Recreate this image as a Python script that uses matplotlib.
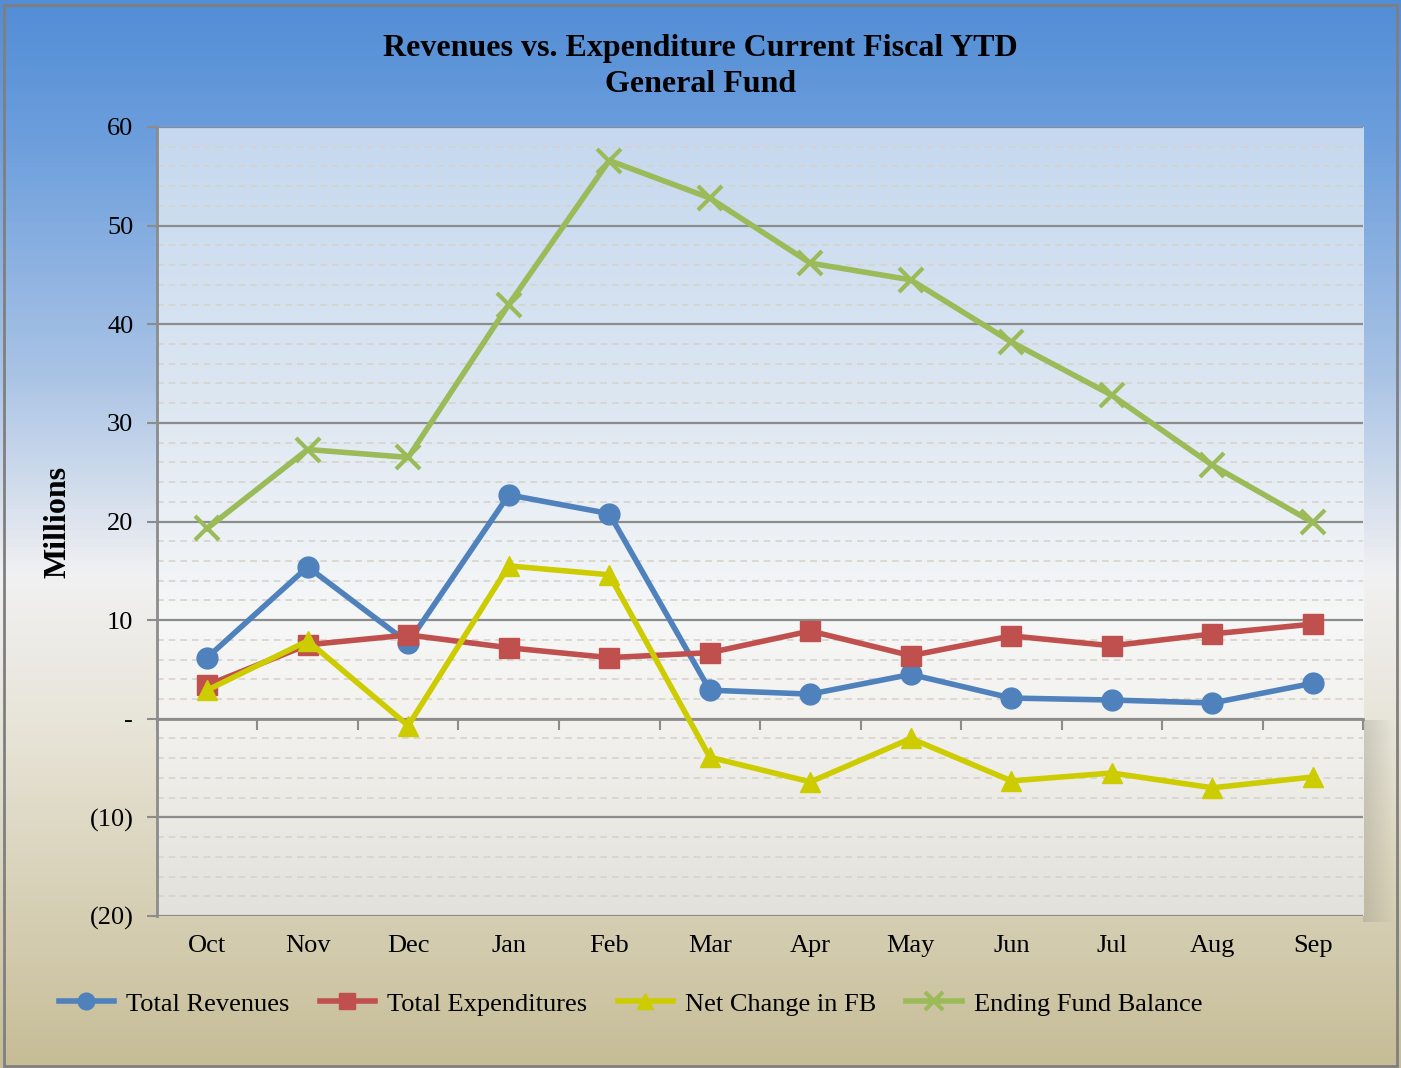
import numpy as np
import matplotlib
matplotlib.use("Agg")
from matplotlib import pyplot as plt
from matplotlib.colors import LinearSegmentedColormap
from matplotlib.patches import Rectangle

months = ["Oct", "Nov", "Dec", "Jan", "Feb", "Mar", "Apr", "May", "Jun", "Jul", "Aug", "Sep"]

# values in millions
total_revenues = [6.2, 15.4, 7.7, 22.7, 20.8, 2.9, 2.5, 4.5, 2.1, 1.9, 1.6, 3.6]
total_expenditures = [3.4, 7.5, 8.5, 7.2, 6.2, 6.7, 8.9, 6.4, 8.4, 7.4, 8.6, 9.6]
net_change_fb = [2.9, 7.9, -0.7, 15.5, 14.6, -3.9, -6.4, -2.0, -6.3, -5.5, -7.0, -5.9]
ending_fund_balance = [19.3, 27.3, 26.5, 42.0, 56.6, 52.8, 46.2, 44.5, 38.2, 32.8, 25.7, 19.9]

y_ticks = [60, 50, 40, 30, 20, 10, 0, -10, -20]
y_ticklabels = ["60", "50", "40", "30", "20", "10", "-", "(10)", "(20)"]

plt.rcParams['font.family'] = ['Liberation Serif', 'DejaVu Serif']

fig = plt.figure(figsize=(14.01, 10.68), dpi=100)

# figure background gradient (blue top -> white -> khaki bottom)
bg = fig.add_axes([0, 0, 1, 1], zorder=-10)
bg_cmap = LinearSegmentedColormap.from_list("bg", [
    (0.0, "#528dd6"), (0.12, "#6a9ddc"), (0.35, "#a9c3e5"),
    (0.54, "#f1f1f2"), (0.70, "#e6e2d4"), (1.0, "#c6bd96")])
grad = np.linspace(0, 1, 256).reshape(-1, 1)
bg.imshow(grad, aspect="auto", cmap=bg_cmap, extent=(0, 1, 0, 1), origin="upper")
bg.set_xlim(0, 1)
bg.set_ylim(0, 1)
bg.axis("off")
# soft shadow to the right of the lower plot area
shadow = np.linspace(1, 0, 64).reshape(1, -1)
shadow_cmap = LinearSegmentedColormap.from_list(
    "sh", [(0.0, (0.54, 0.53, 0.49, 0.0)), (1.0, (0.54, 0.53, 0.49, 0.3))])
bg.imshow(shadow, aspect="auto", cmap=shadow_cmap, extent=(0.973, 0.995, 0.137, 0.326),
          interpolation="bilinear")
bg.add_patch(Rectangle((0.003, 0.002), 0.994, 0.993, fill=False,
                       edgecolor="#7f7f7f", linewidth=2, transform=bg.transAxes))

ax = fig.add_axes([0.112, 0.1423, 0.861, 0.7388])

# plot area gradient
pa_cmap = LinearSegmentedColormap.from_list("pa", [
    (0.0, "#c5d8ef"), (0.35, "#dde7f2"), (0.62, "#f6f7f7"),
    (0.75, "#f3f2ee"), (1.0, "#e3e1db")])
ax.imshow(grad, aspect="auto", cmap=pa_cmap, extent=(-0.5, 11.5, -20, 60),
          origin="upper", zorder=0)

x = np.arange(len(months))

ax.plot(x, total_revenues, color="#4f81bd", linewidth=4, marker="o",
        markersize=15, label="Total Revenues", zorder=5)
ax.plot(x, total_expenditures, color="#c0504d", linewidth=4, marker="s",
        markersize=14, label="Total Expenditures", zorder=5)
ax.plot(x, net_change_fb, color="#cccc00", linewidth=4, marker="^",
        markersize=15, label="Net Change in FB", zorder=5)
ax.plot(x, ending_fund_balance, color="#9bbb59", linewidth=4, marker="x",
        markersize=17, markeredgewidth=3, label="Ending Fund Balance", zorder=5)

ax.set_xlim(-0.5, 11.5)
ax.set_ylim(-20, 60)
ax.set_yticks(y_ticks)
ax.set_yticklabels(y_ticklabels, fontsize=19)
ax.set_yticks(np.arange(-20, 61, 2), minor=True)
ax.set_xticks(x)
ax.set_xticklabels(months, fontsize=19)
ax.tick_params(axis="x", length=0, pad=14)
ax.tick_params(axis="y", which="major", length=7, width=1.5, color="#8c8c8c", pad=10)
ax.tick_params(axis="y", which="minor", length=0)

ax.grid(axis="y", which="major", color="#8c8c8c", linewidth=1.6, zorder=1)
ax.grid(axis="y", which="minor", color="#d6d3cd", linewidth=1.2,
        linestyle=(0, (4, 3)), zorder=1)
ax.set_axisbelow(True)

for side in ["top", "right", "bottom"]:
    ax.spines[side].set_visible(False)
ax.spines["left"].set_color("#8c8c8c")
ax.spines["left"].set_linewidth(2)

# category axis crossing at zero, with tick marks between categories
zero_axis = ax.secondary_xaxis(0.25)
zero_axis.set_xticks(np.arange(-0.5, 12, 1))
zero_axis.set_xticklabels([])
zero_axis.tick_params(length=8, width=1.5, color="#8c8c8c", direction="out")
zero_axis.spines["bottom"].set_color("#8c8c8c")
zero_axis.spines["bottom"].set_linewidth(2)

ax.set_ylabel("Millions", fontsize=23, fontweight="bold", labelpad=12)

fig.text(0.5, 0.968, "Revenues vs. Expenditure Current Fiscal YTD\nGeneral Fund",
         ha="center", va="top", fontsize=23, fontweight="bold", linespacing=1.3)

fig.legend(loc="center left", bbox_to_anchor=(0.025, 0.060), ncol=4, frameon=False,
           fontsize=19, handlelength=2.1, columnspacing=1.15, handletextpad=0.45,
           markerscale=0.8)

fig.savefig("out.png", dpi=100)
